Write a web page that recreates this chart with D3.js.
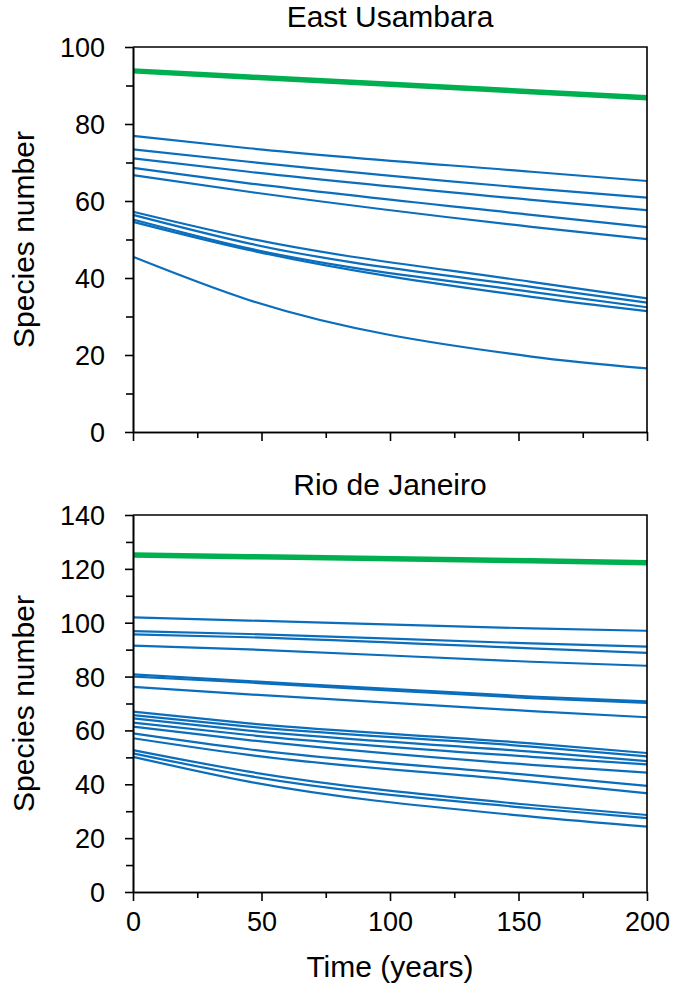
<!DOCTYPE html>
<html>
<head>
<meta charset="utf-8">
<script src="https://cdn.jsdelivr.net/npm/d3@7"></script>
<style>
  html, body { margin: 0; padding: 0; background: #fff; }
  text { font-family: "Liberation Sans", Arial, sans-serif; fill: #000; }
</style>
</head>
<body>
<svg id="chart" width="677" height="994"></svg>
<script>
// ---- Data ----
const timeKnots = [0, 45, 155, 200];

const usambaraTitle = "East Usambara";
const usambaraTotal = [93.8, 92.2, 88.4, 86.8];
const usambaraSeries = [
  [76.9, 73.7, 67.6, 65.2],
  [73.4, 70.2, 63.3, 60.9],
  [71.1, 67.6, 60.3, 57.6],
  [68.6, 64.6, 56.4, 53.2],
  [66.7, 62.4, 53.3, 50.1],
  [57.2, 50.3, 39.0, 34.7],
  [56.4, 49.0, 37.7, 33.6],
  [55.2, 47.7, 36.4, 32.4],
  [54.6, 47.3, 35.1, 31.4],
  [45.5, 34.3, 19.6, 16.5]
];
const usambaraYTicks = [0, 20, 40, 60, 80, 100];

const rioTitle = "Rio de Janeiro";
const rioTotal = [125.1, 124.5, 123.0, 122.3];
const rioSeries = [
  [102.0, 100.8, 97.9, 97.0],
  [96.9, 95.8, 92.3, 91.1],
  [95.7, 94.6, 90.5, 88.8],
  [91.5, 90.1, 85.5, 84.0],
  [80.8, 78.3, 72.6, 70.8],
  [80.0, 77.8, 72.0, 70.2],
  [76.2, 73.4, 67.2, 64.9],
  [67.0, 62.6, 55.2, 51.6],
  [65.7, 61.4, 54.0, 50.4],
  [64.5, 59.9, 52.1, 48.6],
  [62.9, 58.3, 50.2, 47.4],
  [61.4, 56.4, 47.2, 44.3],
  [58.9, 53.0, 43.4, 39.4],
  [57.1, 50.9, 41.0, 36.7],
  [52.7, 44.7, 32.3, 28.6],
  [51.5, 43.1, 31.1, 27.4],
  [50.2, 41.0, 28.0, 24.3]
];
const rioYTicks = [0, 20, 40, 60, 80, 100, 120, 140];

const xTicks = [0, 50, 100, 150, 200];
const xMinorTicks = [25, 75, 125, 175];
const yLabel = "Species number";
const xLabel = "Time (years)";

// ---- Drawing ----
const svg = d3.select("#chart");
const blue = "#0a6ebd";
const green = "#00b050";
const left = 133, right = 647;

const x = d3.scaleLinear().domain([0, 200]).range([left, right]);

function panel(opts) {
  const { title, total, series, yTicks, top, bottom, showXLabels } = opts;
  const yMax = yTicks[yTicks.length - 1];
  const y = d3.scaleLinear().domain([0, yMax]).range([bottom, top]);
  const g = svg.append("g");

  const line = d3.line()
    .x((d, i) => x(timeKnots[i]))
    .y(d => y(d))
    .curve(d3.curveMonotoneX);

  g.selectAll("path.s").data(series).enter().append("path")
    .attr("class", "s")
    .attr("d", line)
    .attr("fill", "none")
    .attr("stroke", blue)
    .attr("stroke-width", 2.2);

  g.append("path").datum(total)
    .attr("d", line)
    .attr("fill", "none")
    .attr("stroke", green)
    .attr("stroke-width", 5.5);

  // frame top/right
  g.append("path")
    .attr("d", `M${left},${top}H${right}V${bottom}`)
    .attr("fill", "none").attr("stroke", "#000").attr("stroke-width", 1.6);

  // y minor ticks
  const yMinor = d3.range(10, yMax, 20);
  const yAxisMinor = d3.axisLeft(y).tickValues(yMinor).tickSize(7).tickSizeOuter(0).tickFormat("");
  g.append("g").attr("transform", `translate(${left},0)`).call(yAxisMinor);
  const yAxis = d3.axisLeft(y).tickValues(yTicks).tickSize(8).tickSizeOuter(0).tickPadding(20);
  const ya = g.append("g").attr("transform", `translate(${left},0)`).call(yAxis);
  ya.selectAll("text").style("font-size", "27px").attr("dy", "0.35em");

  // x ticks
  const xAxisMinor = d3.axisBottom(x).tickValues(xMinorTicks).tickSize(6).tickSizeOuter(0).tickFormat("");
  g.append("g").attr("transform", `translate(0,${bottom})`).call(xAxisMinor);
  const xAxis = d3.axisBottom(x).tickValues(xTicks).tickSize(9).tickSizeOuter(0)
    .tickFormat(showXLabels ? d3.format("d") : "").tickPadding(11);
  const xa = g.append("g").attr("transform", `translate(0,${bottom})`).call(xAxis);
  xa.selectAll("text").style("font-size", "27px");

  g.selectAll(".domain").attr("stroke", "#000").attr("stroke-width", 1.6);
  g.selectAll(".tick line").attr("stroke", "#000").attr("stroke-width", 1.6);

  g.append("text")
    .attr("x", (left + right) / 2).attr("y", top - 20)
    .attr("text-anchor", "middle")
    .style("font-size", "30px")
    .text(title);

  g.append("text")
    .attr("transform", `translate(34,${(top + bottom) / 2}) rotate(-90)`)
    .attr("text-anchor", "middle")
    .style("font-size", "30px")
    .text(yLabel);
}

panel({ title: usambaraTitle, total: usambaraTotal, series: usambaraSeries,
        yTicks: usambaraYTicks, top: 47, bottom: 432, showXLabels: false });
panel({ title: rioTitle, total: rioTotal, series: rioSeries,
        yTicks: rioYTicks, top: 515, bottom: 892, showXLabels: true });

svg.append("text")
  .attr("x", (left + right) / 2).attr("y", 977)
  .attr("text-anchor", "middle")
  .style("font-size", "30px")
  .text(xLabel);
</script>
</body>
</html>
